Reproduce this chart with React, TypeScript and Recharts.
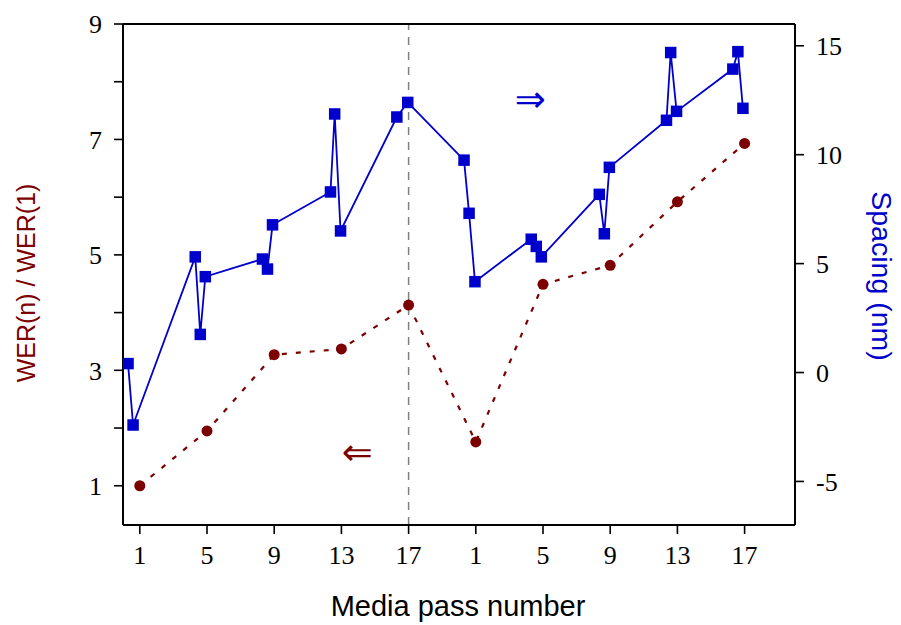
import { ComposedChart, Line, XAxis, YAxis, ReferenceLine, ReferenceDot } from 'recharts'

const RED = '#7d0000'
const BLUE = '#0000cc'

// x positions: first run 1..17, second run drawn at pass + 20
const passTicks = [1, 5, 9, 13, 17, 21, 25, 29, 33, 37]
const passLabels = ['1', '5', '9', '13', '17', '1', '5', '9', '13', '17']
const werTicks = [1, 2, 3, 4, 5, 6, 7, 8, 9]
const spacingTicks = [-5, 0, 5, 10, 15]

const werX = [1, 5, 9, 13, 17, 21, 25, 29, 33, 37]
const werY = [1.0, 1.95, 3.27, 3.37, 4.13, 1.76, 4.49, 4.82, 5.92, 6.93]

const spacingX = [
  0.3, 0.6, 4.3, 4.6, 4.9, 8.3, 8.6, 8.9, 12.35, 12.6, 12.95, 16.3, 16.95,
  20.3, 20.6, 20.95, 24.3, 24.6, 24.9, 28.35, 28.65, 28.95, 32.35, 32.6, 32.95, 36.3, 36.6, 36.9,
]
const spacingY = [
  0.41, -2.41, 5.31, 1.75, 4.4, 5.21, 4.75, 6.78, 8.29, 11.87, 6.5, 11.73, 12.4,
  9.75, 7.31, 4.17, 6.12, 5.79, 5.31, 8.18, 6.37, 9.42, 11.58, 14.69, 11.99, 13.93, 14.73, 12.13,
]

const werData = werX.map((x, i) => ({ x, y: werY[i] }))
const spacingData = spacingX.map((x, i) => ({ x, y: spacingY[i] }))

const tickFont = { fill: '#000', fontSize: 26, fontFamily: 'Liberation Serif' }
const axisStroke = { stroke: '#000', strokeWidth: 2 }
const tickStroke = { stroke: '#000', strokeWidth: 1.6 }

const LeftTitle = () => (
  <text x={26} y={283} transform="rotate(-90 26 283)" textAnchor="middle" dominantBaseline="central"
    fill={RED} fontSize={25} fontFamily="Liberation Sans">WER(n) / WER(1)</text>
)
const RightTitle = () => (
  <text x={882} y={276} transform="rotate(90 882 276)" textAnchor="middle" dominantBaseline="central"
    fill={BLUE} fontSize={28.5} fontFamily="Liberation Sans">Spacing (nm)</text>
)
const BottomTitle = () => (
  <text x={458} y={606} textAnchor="middle" dominantBaseline="central"
    fill="#000" fontSize={29} fontFamily="Liberation Sans">Media pass number</text>
)

const Square = (p: any) => (
  <rect key={`s${p.index}`} x={p.cx - 5.75} y={p.cy - 5.75} width={11.5} height={11.5} fill={BLUE} />
)
const Dot = (p: any) => <circle key={`c${p.index}`} cx={p.cx} cy={p.cy} r={5.5} fill={RED} />

export default function App() {
  return (
    <div style={{ position: 'absolute', left: 0, top: 0, background: '#fff' }}>
      <ComposedChart width={901} height={625} margin={{ top: 14, right: 0, bottom: 0, left: 0 }}>
        <XAxis xAxisId="top" orientation="top" type="number" domain={[0, 40]} allowDataOverflow
          ticks={passTicks} interval={0} height={10} tickSize={9} tickFormatter={() => ''}
          axisLine={axisStroke} tickLine={tickStroke} />
        <XAxis xAxisId="bottom" dataKey="x" type="number" domain={[0, 40]} allowDataOverflow
          ticks={passTicks} interval={0} height={100} tickSize={9} tickMargin={12}
          tickFormatter={(v: number) => passLabels[passTicks.indexOf(v)]}
          tick={tickFont} axisLine={axisStroke} tickLine={tickStroke} label={<BottomTitle />} />
        <YAxis yAxisId="left" type="number" domain={[0.32, 9]} allowDataOverflow ticks={werTicks}
          interval={0} width={123} tickSize={9} tickMargin={12}
          tickFormatter={(v: number) => (v % 2 === 1 ? String(v) : '')}
          tick={tickFont} axisLine={axisStroke} tickLine={tickStroke} label={<LeftTitle />} />
        <YAxis yAxisId="right" orientation="right" type="number" domain={[-7, 16]} allowDataOverflow
          ticks={spacingTicks} interval={0} width={106} tickSize={9} tickMargin={12}
          tick={tickFont} axisLine={axisStroke} tickLine={tickStroke} label={<RightTitle />} />
        <ReferenceLine xAxisId="bottom" yAxisId="left" x={17} stroke="#808080" strokeWidth={1.5} strokeDasharray="8 7" />
        <Line xAxisId="bottom" yAxisId="left" data={werData} dataKey="y" type="linear" stroke={RED}
          strokeWidth={2.2} strokeDasharray="5 9" dot={Dot} activeDot={false} isAnimationActive={false} />
        <Line xAxisId="bottom" yAxisId="right" data={spacingData} dataKey="y" type="linear" stroke={BLUE}
          strokeWidth={1.8} dot={Square} activeDot={false} isAnimationActive={false} />
        <ReferenceDot xAxisId="bottom" yAxisId="right" x={24.24} y={12.56} r={0} fill="none" stroke="none"
          label={{ value: '⇒', position: 'center', fill: BLUE, fontSize: 37, fontFamily: 'DejaVu Sans' }} />
        <ReferenceDot xAxisId="bottom" yAxisId="left" x={13.95} y={1.58} r={0} fill="none" stroke="none"
          label={{ value: '⇐', position: 'center', fill: RED, fontSize: 37, fontFamily: 'DejaVu Sans' }} />
      </ComposedChart>
    </div>
  )
}
